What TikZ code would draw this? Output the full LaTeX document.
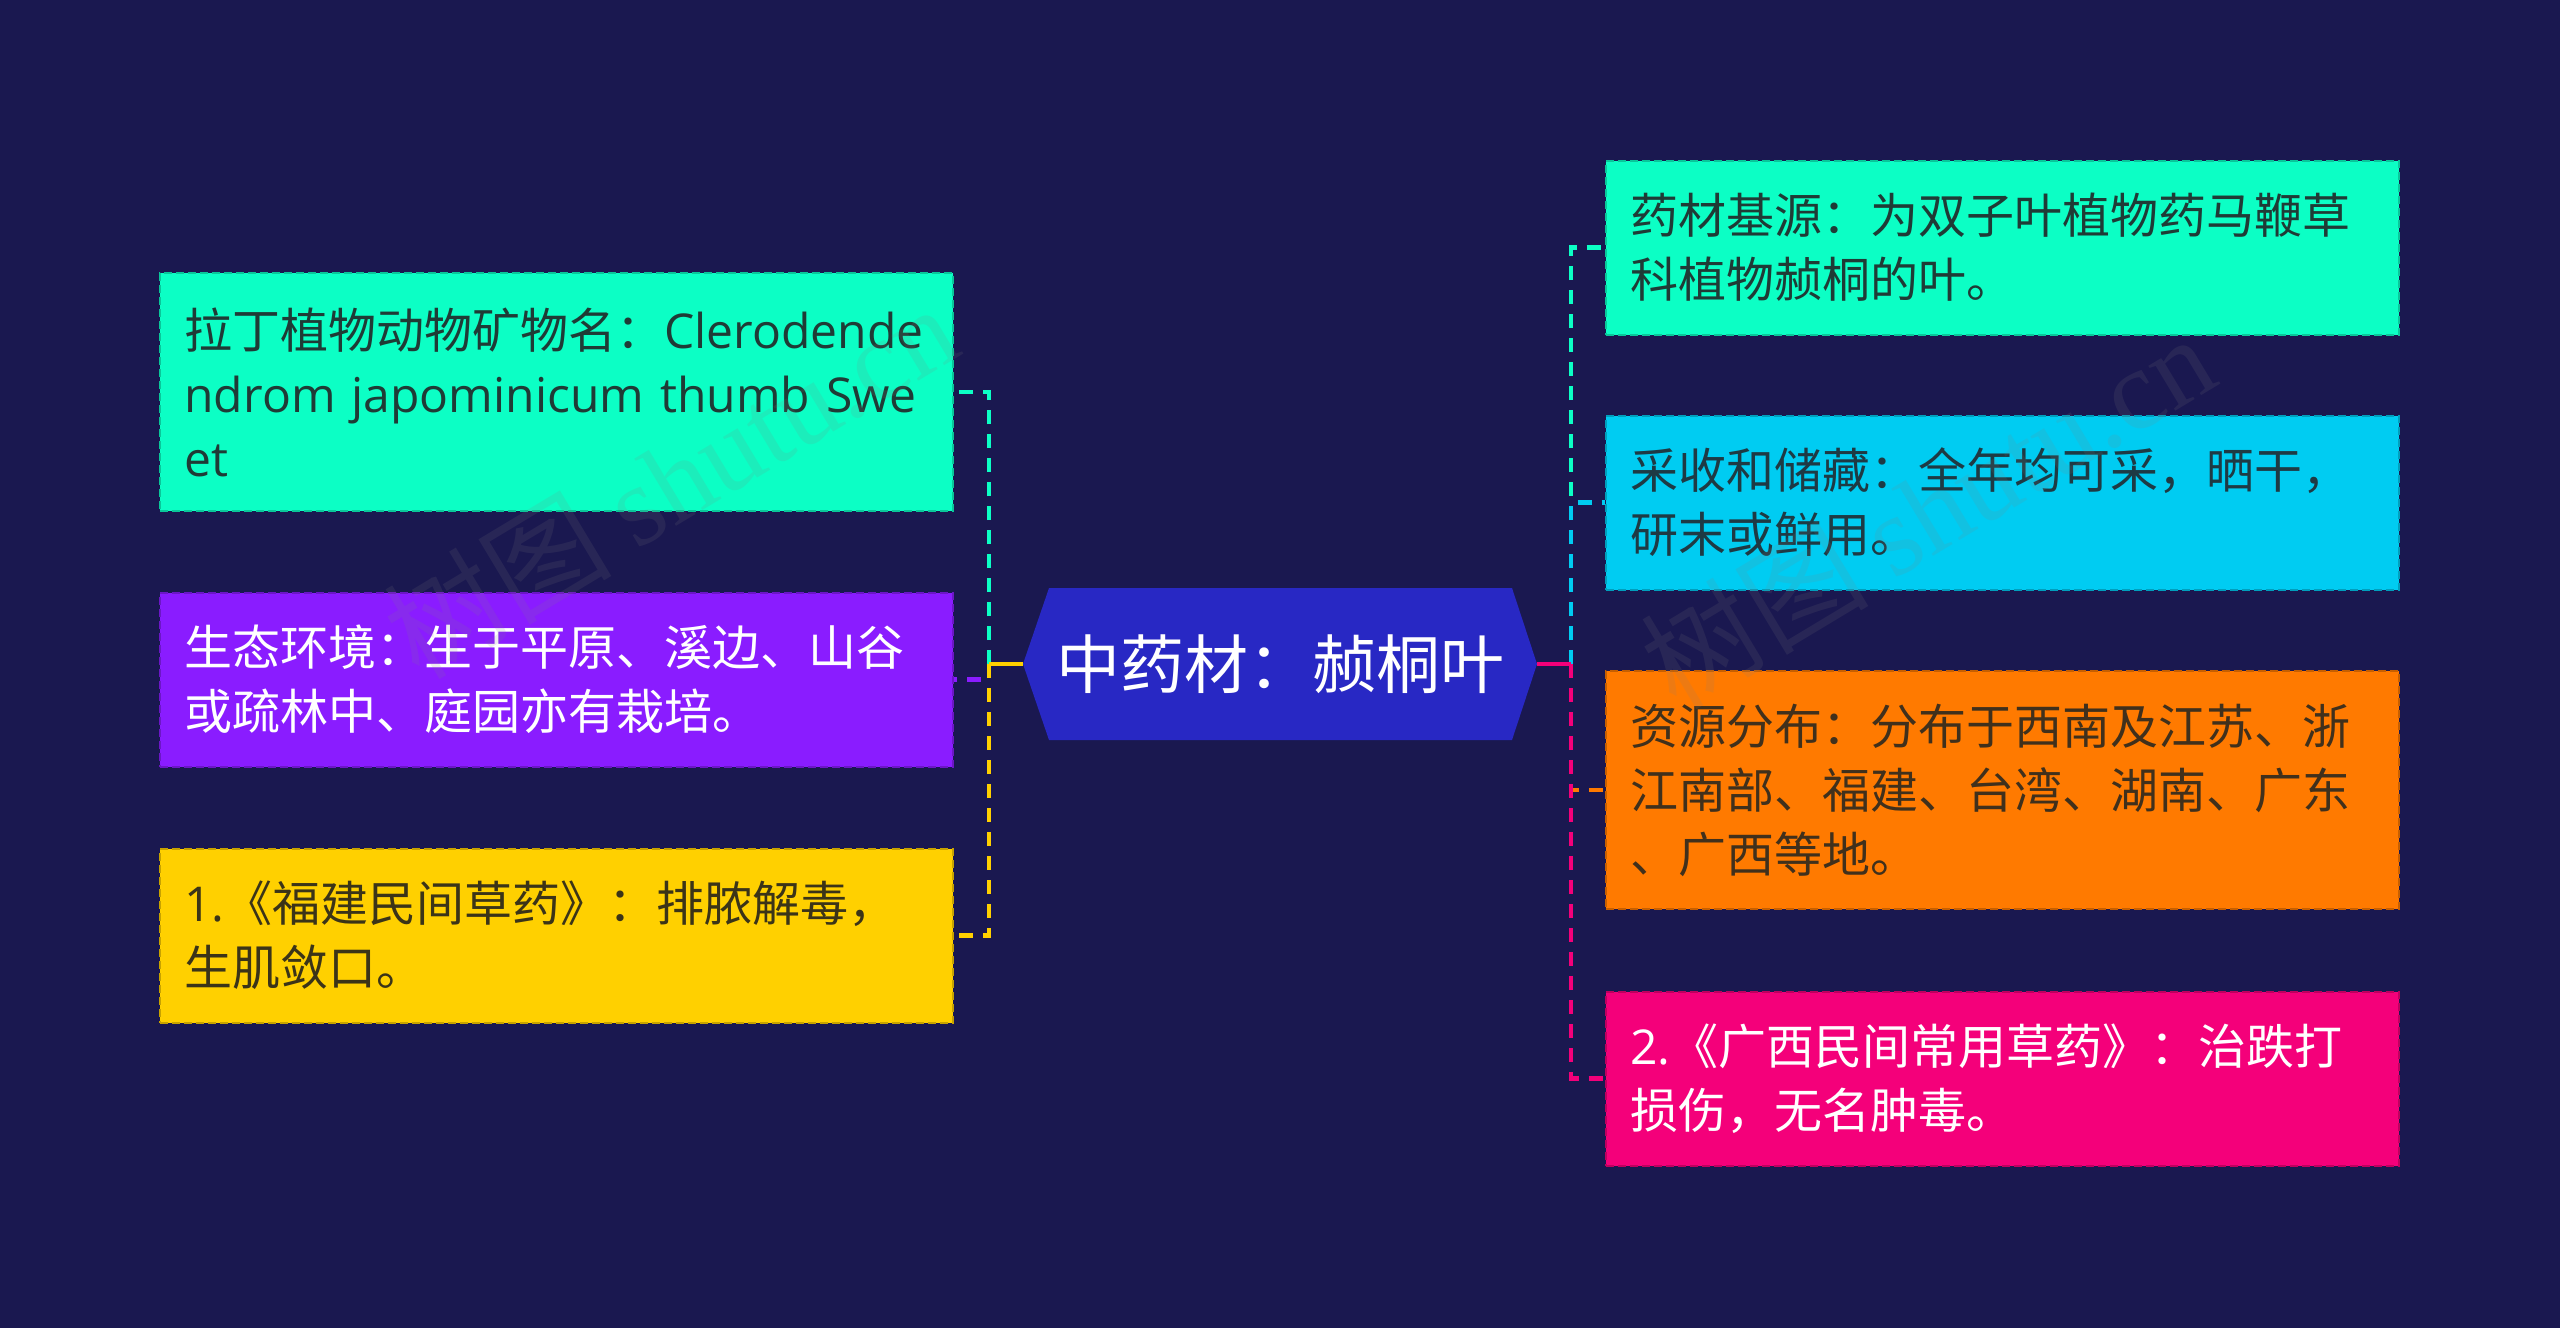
\documentclass[tikz,border=0pt]{standalone}
\usepackage{fontspec}
\setmainfont{Noto Sans CJK SC}
\newfontfamily\latinfont{Open Sans}
\newfontfamily\wmserif{Liberation Serif}
\usetikzlibrary{positioning}
\definecolor{bgc}{HTML}{1A1850}
\definecolor{hexc}{HTML}{2828C4}
\definecolor{cgreen}{HTML}{0CFFC5}
\definecolor{cpurple}{HTML}{8A1CFF}
\definecolor{cyellow}{HTML}{FFD000}
\definecolor{ccyan}{HTML}{00CCF2}
\definecolor{corange}{HTML}{FF7A00}
\definecolor{cpink}{HTML}{F4007A}
\definecolor{tgreen}{HTML}{1F3B36}
\definecolor{tyellow}{HTML}{3B3418}
\definecolor{tcyan}{HTML}{1E3A44}
\definecolor{torange}{HTML}{40301C}
\tikzset{
  leaf/.style={rectangle, draw=#1!78!black, fill=#1, dash pattern=on 4pt off 2pt,
    line width=1pt, text width=372pt, inner xsep=12.25pt, inner ysep=0pt,
    align=left, font=\fontsize{24pt}{32pt}\selectfont},
  two/.style={minimum height=87pt},
  three/.style={minimum height=119pt},
  conn/.style={line width=2.4pt, dash pattern=on 7pt off 5pt},
  trunk/.style={line width=2.4pt},
  wm/.style={rotate=31, opacity=0.14, text=gray, font=\fontsize{57pt}{60pt}\selectfont}
}
\begin{document}
\begin{tikzpicture}[x=0.5pt,y=-0.5pt]
\fill[bgc] (0,0) rectangle (2560,1328);
\useasboundingbox (0,0) rectangle (2560,1328);

% root
\fill[hexc] (1023,664) -- (1049,588) -- (1512,588) -- (1537,664) -- (1512,740) -- (1049,740) -- cycle;
\node[text=white, font=\fontsize{32pt}{36pt}\selectfont] (root) at (1280,664) {中药材：赪桐叶};
\coordinate (rootL) at (1023,664);
\coordinate (rootR) at (1537,664);
\coordinate (busL) at (989,664);
\coordinate (busR) at (1571,664);

% left leaves
\node[leaf=cgreen, three, text=tgreen] (l1) at (556.5,392)
  {拉丁植物动物矿物名：{\latinfont Clerodende}\\{\latinfont ndrom japominicum thumb Swe}\\{\latinfont et}};
\node[leaf=cpurple, two, text=white] (l2) at (556.5,679.5)
  {生态环境：生于平原、溪边、山谷\\或疏林中、庭园亦有栽培。};
\node[leaf=cyellow, two, text=tyellow] (l3) at (556.5,935.5)
  {{\latinfont 1.}《福建民间草药》：排脓解毒，\\生肌敛口。};

% right leaves
\node[leaf=cgreen, two, text=tgreen] (r1) at (2002.5,247.5)
  {药材基源：为双子叶植物药马鞭草\\科植物赪桐的叶。};
\node[leaf=ccyan, two, text=tcyan] (r2) at (2002.5,502.5)
  {采收和储藏：全年均可采，晒干，\\研末或鲜用。};
\node[leaf=corange, three, text=torange] (r3) at (2002.5,790)
  {资源分布：分布于西南及江苏、浙\\江南部、福建、台湾、湖南、广东\\、广西等地。};
\node[leaf=cpink, two, text=white] (r4) at (2002.5,1078.5)
  {{\latinfont 2.}《广西民间常用草药》：治跌打\\损伤，无名肿毒。};

% connectors left
\draw[conn, cgreen] (busL) |- (l1.east);
\draw[conn, cpurple] (busL) |- (l2.east);
\draw[conn, cyellow] (busL) |- (l3.east);
\draw[trunk, cyellow] (rootL) -- (busL);

% connectors right
\draw[conn, cgreen] (busR) |- (r1.west);
\draw[conn, ccyan] (busR) |- (r2.west);
\draw[conn, corange] (busR) |- (r3.west);
\draw[conn, cpink] (busR) |- (r4.west);
\draw[trunk, cpink] (rootR) -- (busR);

% watermarks
\node[wm] (wm1) at (670,480) {树图 {\wmserif shutu.cn}};
\node[wm] (wm2) at (1927,510) {树图 {\wmserif shutu.cn}};
\end{tikzpicture}
\end{document}
